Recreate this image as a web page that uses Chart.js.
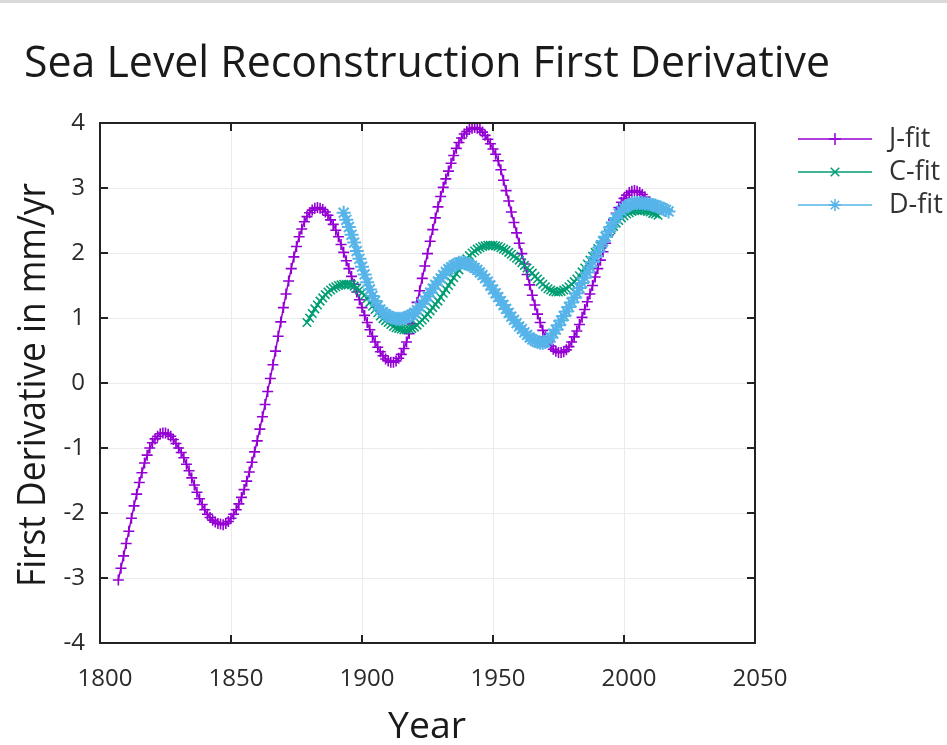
<!DOCTYPE html>
<html><head><meta charset="utf-8">
<script src="https://cdn.jsdelivr.net/npm/chart.js@4"></script>
<style>html,body{margin:0;padding:0;background:#fff}#wrap{width:947px;height:745px;position:relative}</style>
</head><body><div id="wrap"><canvas id="c" width="947" height="745"></canvas></div>
<script>
const chartTitle = "Sea Level Reconstruction First Derivative";
const xTitle = "Year";
const yTitle = "First Derivative in mm/yr";
const seriesNames = ["J-fit", "C-fit", "D-fit"];
const seriesColors = ["#9400d3", "#009e73", "#56b4e9"];
const xTicks = [1800, 1850, 1900, 1950, 2000, 2050];
const yTicks = [-4, -3, -2, -1, 0, 1, 2, 3, 4];

const jStartYear = 1807;
const jValues = [
  -3.03,-2.85,-2.66,
  -2.47,-2.28,-2.08,-1.89,-1.71,-1.53,-1.38,-1.23,-1.11,-1.00,
  -0.92,-0.86,-0.82,-0.78,-0.77,-0.77,-0.79,-0.82,-0.87,-0.93,
  -1.00,-1.07,-1.15,-1.25,-1.35,-1.46,-1.57,-1.68,-1.78,-1.87,
  -1.95,-2.02,-2.07,-2.11,-2.14,-2.16,-2.17,-2.18,-2.16,-2.13,
  -2.08,-2.02,-1.95,-1.86,-1.76,-1.64,-1.51,-1.37,-1.22,-1.06,
  -0.89,-0.71,-0.52,-0.33,-0.13,0.07,0.28,0.49,0.72,0.94,
  1.16,1.37,1.57,1.76,1.94,2.10,2.25,2.37,2.48,2.56,
  2.62,2.66,2.69,2.70,2.69,2.67,2.63,2.58,2.51,2.44,
  2.35,2.25,2.13,2.01,1.88,1.76,1.64,1.52,1.40,1.28,
  1.16,1.04,0.93,0.82,0.72,0.63,0.55,0.48,0.42,0.37,
  0.34,0.32,0.32,0.34,0.38,0.44,0.53,0.63,0.76,0.91,
  1.07,1.24,1.42,1.61,1.80,1.99,2.18,2.36,2.54,2.71,
  2.87,3.01,3.14,3.26,3.38,3.50,3.61,3.70,3.77,3.83,
  3.87,3.90,3.92,3.93,3.92,3.90,3.86,3.81,3.75,3.68,
  3.60,3.52,3.42,3.28,3.12,2.96,2.80,2.63,2.47,2.31,
  2.15,1.99,1.83,1.67,1.51,1.35,1.20,1.06,0.93,0.81,
  0.71,0.63,0.57,0.52,0.49,0.47,0.47,0.48,0.51,0.56,
  0.63,0.71,0.80,0.90,1.01,1.13,1.25,1.37,1.50,1.63,
  1.76,1.89,2.02,2.15,2.28,2.40,2.51,2.61,2.70,2.78,
  2.84,2.89,2.93,2.95,2.96,2.95,2.93,2.90,2.86
];

const cStartYear = 1879;
const cValues = [
  0.93,
  1.00,1.07,1.14,1.20,1.26,1.31,1.36,1.40,1.43,1.46,
  1.48,1.50,1.51,1.52,1.52,1.52,1.51,1.49,1.46,1.43,
  1.39,1.35,1.30,1.24,1.18,1.13,1.08,1.03,0.99,0.96,
  0.93,0.90,0.87,0.85,0.84,0.83,0.82,0.82,0.83,0.84,
  0.86,0.89,0.93,0.97,1.01,1.06,1.11,1.16,1.21,1.26,
  1.32,1.38,1.44,1.50,1.56,1.62,1.68,1.74,1.80,1.86,
  1.91,1.96,2.00,2.03,2.06,2.08,2.10,2.11,2.12,2.12,
  2.12,2.11,2.10,2.08,2.06,2.04,2.01,1.98,1.95,1.92,
  1.89,1.85,1.81,1.77,1.73,1.69,1.64,1.60,1.56,1.52,
  1.48,1.45,1.43,1.41,1.40,1.40,1.41,1.43,1.45,1.48,
  1.52,1.56,1.60,1.65,1.71,1.77,1.83,1.89,1.95,2.01,
  2.07,2.13,2.19,2.25,2.30,2.36,2.41,2.46,2.50,2.54,
  2.57,2.60,2.62,2.64,2.65,2.66,2.66,2.66,2.65,2.64,
  2.63,2.61,2.60,2.58
];

const dStartYear = 1893;
const dValues = [
  2.62,2.51,2.40,2.28,2.16,2.03,1.91,
  1.79,1.67,1.55,1.44,1.34,1.26,1.19,1.13,1.09,1.06,
  1.03,1.01,1.00,0.99,0.99,0.99,1.00,1.01,1.03,1.05,
  1.08,1.12,1.17,1.22,1.27,1.33,1.39,1.45,1.51,1.56,
  1.61,1.66,1.71,1.75,1.78,1.81,1.83,1.85,1.85,1.85,
  1.84,1.82,1.80,1.77,1.74,1.70,1.66,1.61,1.56,1.50,
  1.44,1.38,1.32,1.26,1.20,1.14,1.08,1.02,0.97,0.92,
  0.87,0.83,0.78,0.74,0.70,0.67,0.65,0.63,0.62,0.62,
  0.63,0.66,0.70,0.76,0.82,0.89,0.96,1.03,1.10,1.17,
  1.24,1.31,1.38,1.46,1.54,1.62,1.70,1.78,1.86,1.94,
  2.02,2.10,2.18,2.25,2.33,2.40,2.47,2.54,2.60,2.65,
  2.69,2.72,2.74,2.76,2.77,2.77,2.77,2.77,2.76,2.76,
  2.75,2.74,2.73,2.71,2.70,2.68,2.66,2.64
];

function toPoints(start, vals) { return vals.map((v, i) => ({ x: start + i, y: v })); }

const FONT = '"Open Sans", "Noto Sans", sans-serif';
const pointStyles = ['cross', 'crossRot', 'star'];

// draw text whose advance is fitted to a target width (left edge at x)
function fitText(ctx, text, x, y, targetW) {
  const w = ctx.measureText(text).width;
  ctx.save();
  ctx.translate(x, y);
  ctx.scale(targetW / w, 1);
  ctx.textAlign = 'left';
  ctx.fillText(text, 0, 0);
  ctx.restore();
}

const decor = {
  id: 'decor',
  beforeDraw(chart) {
    const ctx = chart.ctx;
    ctx.save();
    ctx.fillStyle = '#fff';
    ctx.fillRect(0, 0, chart.width, chart.height);
    ctx.fillStyle = '#d9d9d9';
    ctx.fillRect(0, 0, chart.width, 3);
    ctx.restore();
  },
  afterDraw(chart) {
    const ctx = chart.ctx;
    const a = chart.chartArea;
    const xs = chart.scales.x, ys = chart.scales.y;
    ctx.save();
    ctx.strokeStyle = '#222';
    ctx.lineWidth = 2;
    ctx.strokeRect(a.left, a.top, a.right - a.left, a.bottom - a.top);
    const tl = 8;
    xTicks.forEach(t => {
      const px = xs.getPixelForValue(t);
      ctx.beginPath();
      ctx.moveTo(px, a.bottom); ctx.lineTo(px, a.bottom - tl);
      ctx.moveTo(px, a.top); ctx.lineTo(px, a.top + tl);
      ctx.stroke();
    });
    yTicks.forEach(t => {
      const py = ys.getPixelForValue(t);
      ctx.beginPath();
      ctx.moveTo(a.left, py); ctx.lineTo(a.left + tl, py);
      ctx.moveTo(a.right, py); ctx.lineTo(a.right - tl, py);
      ctx.stroke();
    });
    ctx.fillStyle = '#1a1a1a';
    ctx.textBaseline = 'alphabetic';
    // title
    ctx.font = '44px ' + FONT;
    fitText(ctx, chartTitle, 24, 77, 806);
    // x title
    ctx.font = '37px ' + FONT;
    fitText(ctx, xTitle, 388, 738, 78);
    // y title (rotated)
    ctx.save();
    ctx.translate(45, 587);
    ctx.rotate(-Math.PI / 2);
    ctx.font = '39px ' + FONT;
    fitText(ctx, yTitle, 0, 0, 404);
    ctx.restore();
    // legend
    const rows = [139, 172, 205];
    chart.data.datasets.forEach((ds) => {
      const y = rows[ds.legendIndex];
      ctx.strokeStyle = ds.borderColor;
      ctx.fillStyle = ds.borderColor;
      ctx.lineWidth = 1.5;
      ctx.beginPath();
      ctx.moveTo(798, y); ctx.lineTo(872, y);
      ctx.stroke();
      Chart.helpers.drawPoint(ctx, { pointStyle: ds.pointStyle, radius: 6, borderWidth: 1.5, rotation: 0 }, 835, y);
      ctx.fillStyle = '#333';
      ctx.font = '27px ' + FONT;
      ctx.textAlign = 'left';
      ctx.textBaseline = 'middle';
      ctx.fillText(ds.label, 889, y);
    });
    ctx.restore();
  }
};

const starts = [jStartYear, cStartYear, dStartYear];
const vals = [jValues, cValues, dValues];
const datasets = seriesNames.map((name, i) => ({
  label: name,
  legendIndex: i,
  data: toPoints(starts[i], vals[i]),
  borderColor: seriesColors[i],
  backgroundColor: seriesColors[i],
  pointBorderColor: seriesColors[i],
  pointStyle: pointStyles[i],
  pointRadius: i === 2 ? 7 : (i === 1 ? 6 : 5.5),
  pointBorderWidth: i === 2 ? 2 : 1.6,
  borderWidth: 1.5,
  tension: 0,
  order: 2 - i
}));

new Chart(document.getElementById('c'), {
  type: 'line',
  data: { datasets },
  options: {
    responsive: false,
    animation: false,
    devicePixelRatio: 1,
    layout: { padding: { top: 123, right: 192, left: 0, bottom: 0 } },
    plugins: { legend: { display: false }, title: { display: false }, tooltip: { enabled: false } },
    scales: {
      x: {
        type: 'linear', min: 1800, max: 2050,
        afterBuildTicks(s) { s.ticks = xTicks.map(v => ({ value: v })); },
        afterFit(s) { s.height = 102; },
        grid: { color: '#ebebeb', lineWidth: 1, drawTicks: false },
        border: { display: false },
        ticks: { padding: 22, labelOffset: 5, color: '#2a2a2a', font: { size: 24, family: FONT }, maxRotation: 0, callback: v => String(v) }
      },
      y: {
        type: 'linear', min: -4, max: 4,
        afterBuildTicks(s) { s.ticks = yTicks.map(v => ({ value: v })); },
        afterFit(s) { s.width = 100; },
        grid: { color: '#ebebeb', lineWidth: 1, drawTicks: false },
        border: { display: false },
        ticks: { padding: 15, color: '#2a2a2a', font: { size: 24, family: FONT }, callback: v => String(v) }
      }
    }
  },
  plugins: [decor]
});
</script>
</body></html>
